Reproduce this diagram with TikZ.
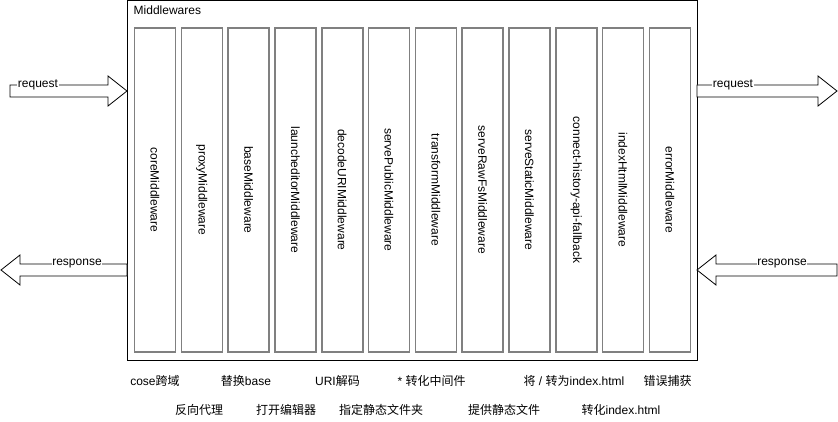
\documentclass[tikz,border=0pt]{standalone}
\usepackage{fontspec}
\setmainfont{Liberation Sans}
\newfontfamily\cjk{Noto Sans CJK SC}
\usetikzlibrary{calc}
\definecolor{mwgray}{RGB}{128,128,128}

\begin{document}
\begin{tikzpicture}[x=1pt, y=1pt, font=\fontsize{12}{14}\selectfont,
    mw/.style={draw=mwgray, line width=1.6pt, minimum width=41pt, minimum height=324pt, inner sep=0pt},
    fat/.style={draw, fill=white, line width=0.8pt, line join=miter},
    tag/.style={fill=white, inner sep=0.5pt}]
    \useasboundingbox (0, 0) rectangle (838, 421);

    % outer box
    \node [draw, line width=1pt, minimum width=570pt, minimum height=359pt, inner sep=0pt] (mws) at (412, 240.5) {};
    \node [anchor=north west, inner sep=2pt] (mwstitle) at ([xshift=5pt, yshift=-3pt] mws.north west) {Middlewares};

    % one column per middleware
    \foreach \name [count=\i] in {coreMiddleware, proxyMiddleware, baseMiddleware,
        launcheditorMiddleware, decodeURIMiddleware, servePublicMiddleware,
        transformMiddleware, serveRawFsMiddleware, serveStaticMiddleware,
        connect-history-api-fallback, indexHtmlMiddleware, errorMiddleware} {
        \node [mw] (mw\i) at ({155 + 46.8*(\i-1)}, 231) {\rotatebox{-90}{\name}};
        }

    % request / response block arrows
    \foreach \tx/\hx/\y/\lx/\txt in {10/127/330/38/request, 697/837/330/733/request,
        127/1/151/77/response, 837/697/151/782/response} {
        \pgfmathsetmacro\d{(\hx > \tx) ? 1 : -1}
        \draw [fat] (\tx, \y-6) -- ({\hx - 19*\d}, \y-6) -- ({\hx - 19*\d}, \y-15)
            -- (\hx, \y) -- ({\hx - 19*\d}, \y+15) -- ({\hx - 19*\d}, \y+6)
            -- (\tx, \y+6) -- cycle;
        \node [tag] at (\lx, \y+6) {\txt};
        }

    % notes under the columns
    \node (cors)     at (155, 40)   {cose{\cjk 跨域}};
    \node (base)     at (246, 40)   {{\cjk 替换}base};
    \node (decode)   at (337.5, 40) {URI{\cjk 解码}};
    \node (trans)    at (431.5, 40) {* {\cjk 转化中间件}};
    \node (history)  at (574, 40)   {{\cjk 将} / {\cjk 转为}index.html};
    \node (error)    at (667.5, 40) {{\cjk 错误捕获}};

    \node (proxy)    at (199, 11)   {{\cjk 反向代理}};
    \node (editor)   at (286, 11)   {{\cjk 打开编辑器}};
    \node (public)   at (381, 11)   {{\cjk 指定静态文件夹}};
    \node (static)   at (504, 11)   {{\cjk 提供静态文件}};
    \node (index)    at (621, 11)   {{\cjk 转化}index.html};
\end{tikzpicture}
\end{document}
